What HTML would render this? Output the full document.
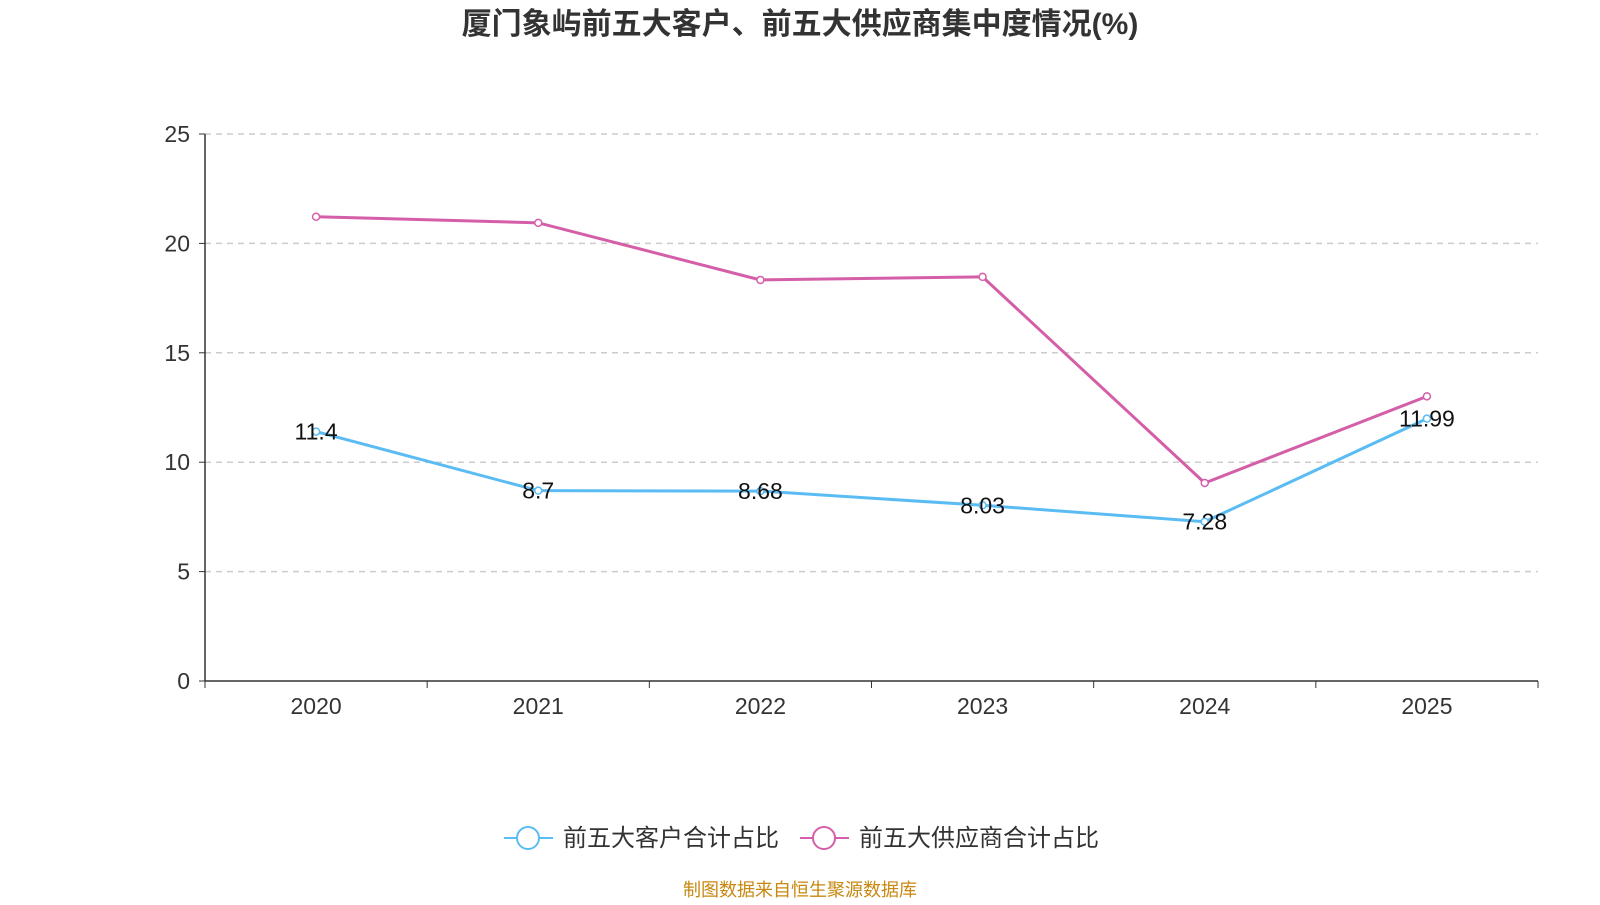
<!DOCTYPE html>
<html><head><meta charset="utf-8">
<style>
body{margin:0;width:1600px;height:900px;background:#fff;overflow:hidden;font-family:"Liberation Sans","Noto Sans CJK SC",sans-serif;}
svg text{font-family:"Liberation Sans","Noto Sans CJK SC",sans-serif;}
</style></head>
<body>
<svg id="chart" width="1600" height="900">
<text x="800" y="34" text-anchor="middle" font-size="30" font-weight="bold" fill="#333">厦门象屿前五大客户、前五大供应商集中度情况(%)</text>
<g id="grid"></g><g id="axes"></g><g id="series"></g>
<g>
<g>
<line x1="504" y1="838" x2="553" y2="838" stroke="#5bbcf3" stroke-width="2"/>
<circle cx="528" cy="838" r="11" fill="#fff" stroke="#5bbcf3" stroke-width="2"/>
<text x="563" y="846" font-size="24" fill="#333">前五大客户合计占比</text></g>
<g>
<line x1="800" y1="838" x2="849" y2="838" stroke="#d45fa8" stroke-width="2"/>
<circle cx="824" cy="838" r="11" fill="#fff" stroke="#d45fa8" stroke-width="2"/>
<text x="859" y="846" font-size="24" fill="#333">前五大供应商合计占比</text></g>
</g>
<text x="800" y="896" text-anchor="middle" font-size="18" fill="#c8870f">制图数据来自恒生聚源数据库</text>
</svg>
<script>
const categories=["2020","2021","2022","2023","2024","2025"];
const customers=[11.4,8.7,8.68,8.03,7.28,11.99];
const suppliers=[21.22,20.94,18.33,18.47,9.05,13.01];
const yTicks=[0,5,10,15,20,25];
const NS="http://www.w3.org/2000/svg";
const X0=205,X1=1538,Y0=681,Y1=134,YMAX=25;
const bw=(X1-X0)/categories.length;
const x=i=>X0+bw*(i+0.5);
const y=v=>Y0-(v/YMAX)*(Y0-Y1);
function mk(tag,attrs,parent){const e=document.createElementNS(NS,tag);for(const k in attrs)e.setAttribute(k,attrs[k]);parent.appendChild(e);return e;}
const grid=document.getElementById('grid'),axes=document.getElementById('axes'),series=document.getElementById('series');
yTicks.forEach(t=>{
 if(t>0){const l=mk('line',{x1:X0,x2:X1,y1:y(t),y2:y(t),stroke:'#ccc','stroke-dasharray':'6,5','stroke-width':1.5},grid);
 
 }
 mk('line',{x1:X0-6,x2:X0,y1:y(t),y2:y(t),stroke:'#333'},axes);
 const tx=mk('text',{x:X0-15,y:y(t)+8,'text-anchor':'end','font-size':23,fill:'#333'},axes);tx.textContent=t;
 
 
});
const ya=mk('line',{x1:X0,x2:X0,y1:Y1,y2:Y0,stroke:'#333','stroke-width':1.5},axes);


const xa=mk('line',{x1:X0,x2:X1,y1:Y0,y2:Y0,stroke:'#333','stroke-width':1.5},axes);


for(let i=0;i<=categories.length;i++)mk('line',{x1:X0+bw*i,x2:X0+bw*i,y1:Y0,y2:Y0+7,stroke:'#333'},axes);
categories.forEach((c,i)=>{const t=mk('text',{x:x(i),y:Y0+33,'text-anchor':'middle','font-size':23,fill:'#333'},axes);t.textContent=c;
 
 });
function draw(vals,color,name,labels){
 const p=mk('polyline',{points:vals.map((v,i)=>x(i)+','+y(v)).join(' '),fill:'none',stroke:color,'stroke-width':3},series);
 
 
 vals.forEach((v,i)=>{const c=mk('circle',{cx:x(i),cy:y(v),r:3.5,fill:'#fff',stroke:color,'stroke-width':1.5},series);
  
  
  if(labels){const t=mk('text',{x:x(i),y:y(v)+8,'text-anchor':'middle','font-size':23,fill:'#111'},series);t.textContent=v;
   
   }
 });
}
draw(suppliers,'#d45fa8','suppliers',false);
draw(customers,'#5bbcf3','customers',true);
</script>
</body></html>
